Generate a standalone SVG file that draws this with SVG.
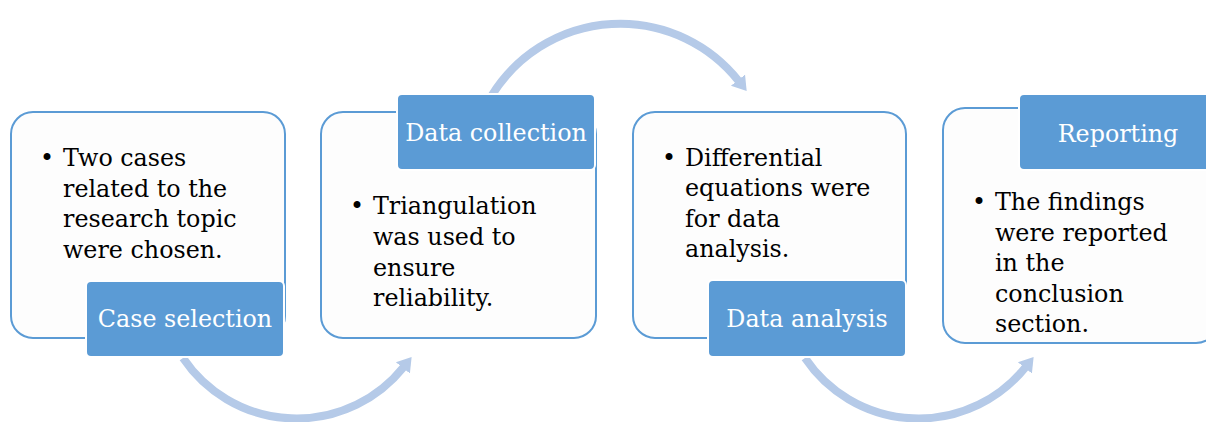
<svg xmlns="http://www.w3.org/2000/svg" width="1206" height="422" viewBox="0 0 1206 422">
  <style>
    .card { fill: #FDFDFD; stroke: #5B9BD5; stroke-width: 2; }
    .tag { fill: #5B9BD5; stroke: #FFFFFF; stroke-width: 2; }
    .tag-text { font-family: "DejaVu Serif", serif; font-size: 23.8px; fill: #FFFFFF; text-anchor: middle; }
    .body { font-family: "DejaVu Serif", serif; font-size: 23.8px; fill: #000000; }
    .flow { fill: none; stroke: #B5CAE8; stroke-width: 8; }
  </style>
  <defs>
    <marker id="head" markerUnits="userSpaceOnUse" markerWidth="20" markerHeight="22" refX="1" refY="11" orient="auto" viewBox="0 0 20 22">
      <path d="M0,2 L14,11 L0,20 Z" fill="#B5CAE8"/>
    </marker>
  </defs>
  <rect width="1206" height="422" fill="#FFFFFF"/>

  <!-- curved flow arrows between the stages -->
  <g id="connectors">
    <path class="flow" d="M183,358 A137,137 0 0 0 403.5,367.2" marker-end="url(#head)"/>
    <path class="flow" d="M492,95 A151,151 0 0 1 738.6,80.9" marker-end="url(#head)"/>
    <path class="flow" d="M805,358 A137,137 0 0 0 1025.5,367.2" marker-end="url(#head)"/>
  </g>

  <g id="case-selection">
    <rect class="card" x="11" y="112" width="274" height="226" rx="22"/>
    <text class="body" x="40" y="166">•</text>
    <text class="body" x="63" y="166">Two cases</text>
    <text class="body" x="63" y="196.5">related to the</text>
    <text class="body" x="63" y="227">research topic</text>
    <text class="body" x="63" y="257.5">were chosen.</text>
    <rect class="tag" x="86" y="281" width="198" height="76" rx="5"/>
    <text class="tag-text" x="185" y="327">Case selection</text>
  </g>

  <g id="data-collection">
    <rect class="card" x="321" y="112" width="275" height="226" rx="22"/>
    <rect class="tag" x="397" y="94" width="198" height="76" rx="5"/>
    <text class="tag-text" x="496" y="141">Data collection</text>
    <text class="body" x="350" y="214">•</text>
    <text class="body" x="373" y="214">Triangulation</text>
    <text class="body" x="373" y="245">was used to</text>
    <text class="body" x="373" y="276">ensure</text>
    <text class="body" x="373" y="306">reliability.</text>
  </g>

  <g id="data-analysis">
    <rect class="card" x="633" y="112" width="273" height="226" rx="22"/>
    <text class="body" x="662" y="165.5">•</text>
    <text class="body" x="685" y="165.5">Differential</text>
    <text class="body" x="685" y="196">equations were</text>
    <text class="body" x="685" y="226.5">for data</text>
    <text class="body" x="685" y="257">analysis.</text>
    <rect class="tag" x="708" y="280" width="198" height="77" rx="5"/>
    <text class="tag-text" x="807" y="327">Data analysis</text>
  </g>

  <g id="reporting">
    <rect class="card" x="943" y="108" width="275" height="235" rx="22"/>
    <rect class="tag" x="1019" y="94" width="198" height="76" rx="5"/>
    <text class="tag-text" x="1118" y="141.5">Reporting</text>
    <text class="body" x="972" y="210">•</text>
    <text class="body" x="995" y="210">The findings</text>
    <text class="body" x="995" y="240.5">were reported</text>
    <text class="body" x="995" y="271">in the</text>
    <text class="body" x="995" y="301.5">conclusion</text>
    <text class="body" x="995" y="332">section.</text>
  </g>
</svg>
